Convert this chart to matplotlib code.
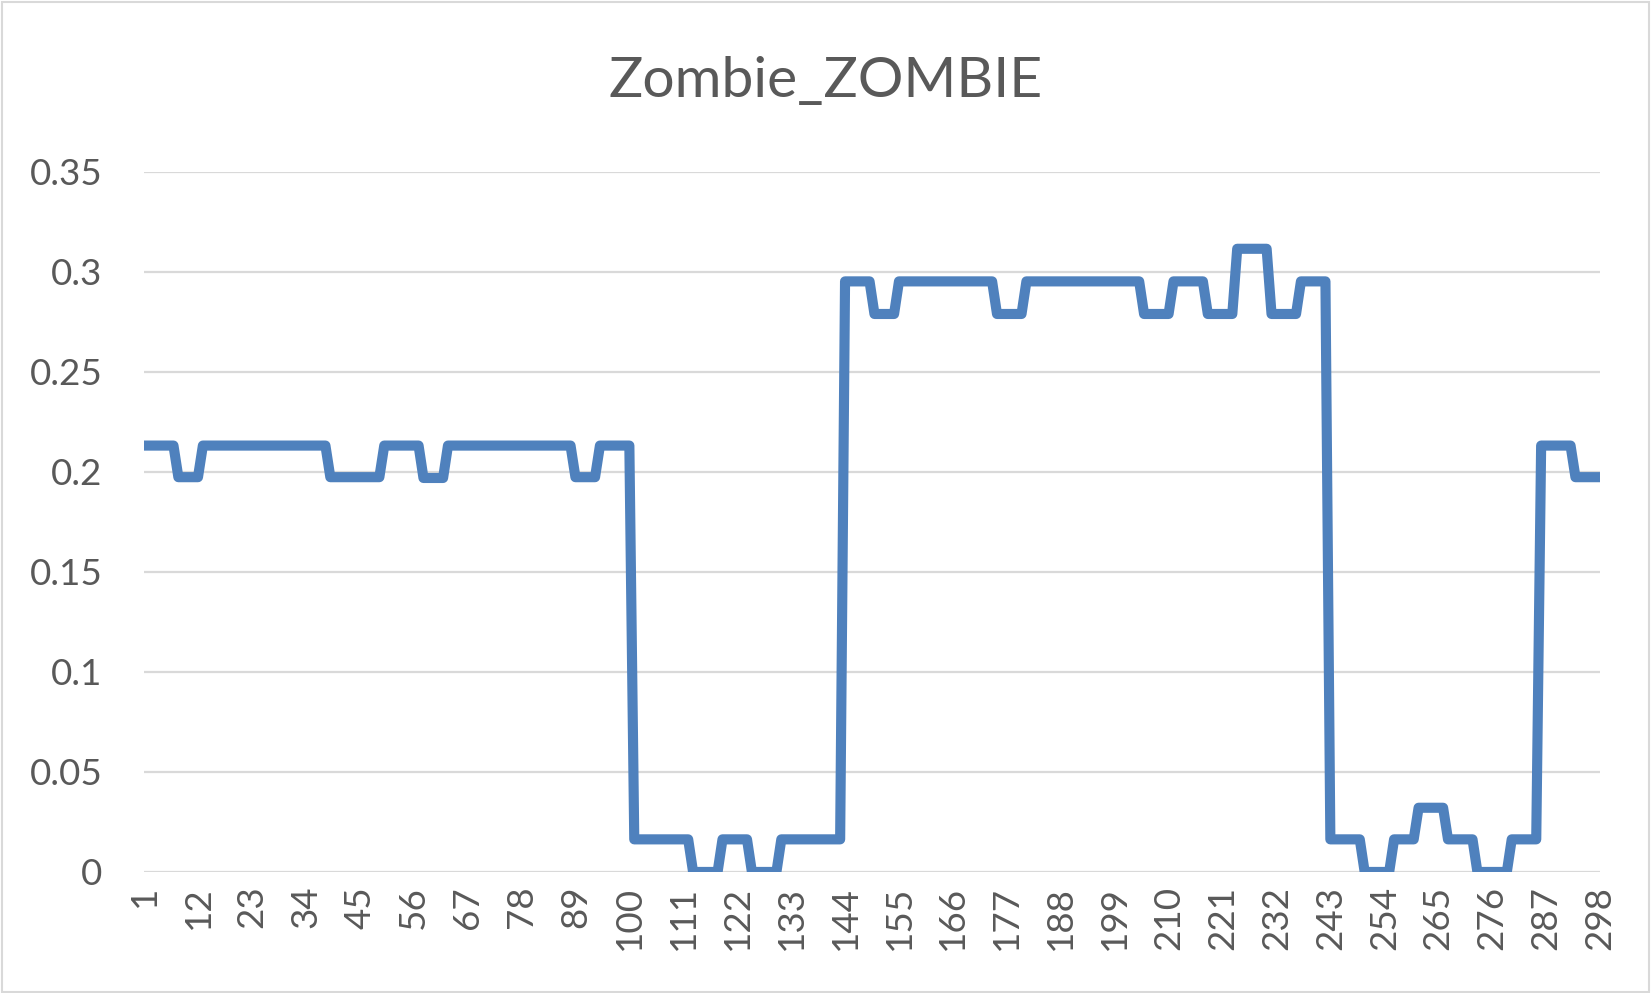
import numpy as np
import matplotlib
matplotlib.use("Agg")
import matplotlib.pyplot as plt
from matplotlib.patches import Rectangle

# --- data: runs of (level, number of points) ---
seg_values = [0.2132, 0.1974, 0.2132, 0.1974, 0.2132, 0.1970, 0.2132, 0.1974, 0.2132,
              0.0163, 0.0, 0.0163, 0.0, 0.0163,
              0.2953, 0.2790, 0.2953, 0.2790, 0.2953, 0.2790, 0.2953, 0.2790, 0.3116, 0.2790, 0.2953,
              0.0163, 0.0, 0.0163, 0.0321, 0.0163, 0.0, 0.0163,
              0.2132, 0.1974]
seg_lengths = [7, 5, 26, 11, 8, 5, 26, 5, 7,
               12, 6, 6, 6, 13,
               6, 5, 20, 6, 24, 6, 7, 6, 7, 6, 6,
               7, 6, 5, 6, 6, 7, 6,
               7, 6]

values = np.repeat(seg_values, seg_lengths)
x = np.arange(1, len(values) + 1)
tick_pos = list(range(1, len(values) + 1, 11))
tick_labels = [str(t) for t in tick_pos]
y_ticks = [0, 0.05, 0.1, 0.15, 0.2, 0.25, 0.3, 0.35]
y_labels = ["0", "0.05", "0.1", "0.15", "0.2", "0.25", "0.3", "0.35"]

text_color = "#595959"
grid_color = "#D9D9D9"
line_color = "#4F81BD"

plt.rcParams['font.family'] = ['Lato', 'DejaVu Sans']

fig = plt.figure(figsize=(16.52, 9.93), dpi=100)
ax = fig.add_axes([0.0872, 0.1219, 0.8813, 0.7049])

ax.plot(x, values, color=line_color, lw=7.3,
        solid_joinstyle='round', solid_capstyle='round', zorder=3)

ax.set_xlim(1, len(values))
ax.set_ylim(0, 0.35)
ax.set_yticks(y_ticks)
ax.set_yticklabels(y_labels)
ax.set_xticks(tick_pos)
ax.set_xticklabels(tick_labels, rotation=90)
ax.grid(axis='y', color=grid_color, lw=1.6, zorder=0)
ax.tick_params(axis='both', length=0, labelsize=26.5, colors=text_color)
ax.tick_params(axis='y', pad=30)
ax.tick_params(axis='x', pad=10)
for s in ax.spines.values():
    s.set_visible(False)

fig.text(0.4995, 0.918, "Zombie_ZOMBIE", ha='center', va='center',
         fontsize=41, color=text_color)

fig.patches.append(Rectangle((0.001, 0.001), 0.997, 0.997, transform=fig.transFigure,
                             fill=False, edgecolor=grid_color, lw=1.5))

fig.savefig("out.png", dpi=100)
